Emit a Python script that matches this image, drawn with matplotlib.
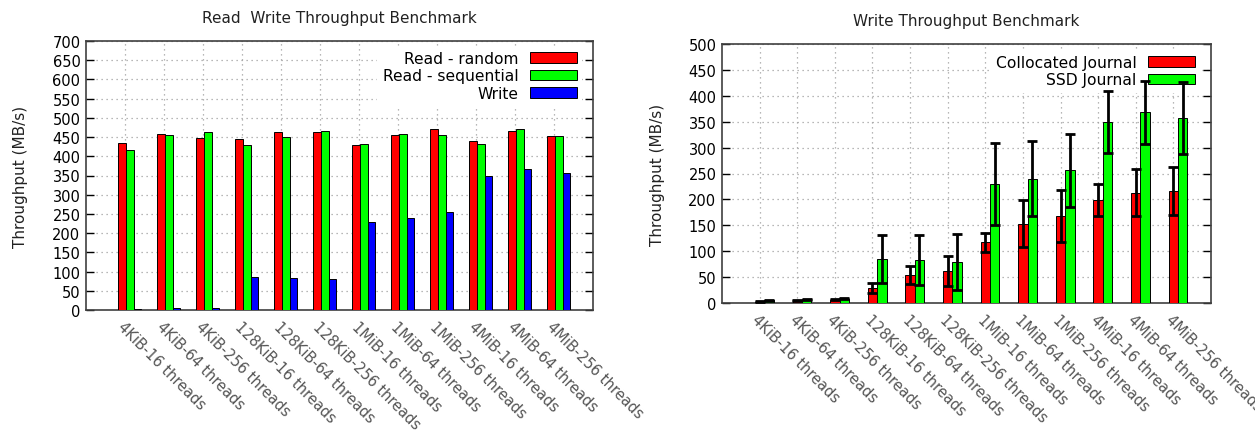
import matplotlib
matplotlib.use("Agg")
import matplotlib.pyplot as plt
import numpy as np

categories = ["4KiB-16 threads", "4KiB-64 threads", "4KiB-256 threads",
              "128KiB-16 threads", "128KiB-64 threads", "128KiB-256 threads",
              "1MiB-16 threads", "1MiB-64 threads", "1MiB-256 threads",
              "4MiB-16 threads", "4MiB-64 threads", "4MiB-256 threads"]

read_random = [434, 459, 447, 444, 462, 464, 430, 455, 470, 439, 467, 452]
read_sequential = [417, 455, 462, 430, 450, 467, 431, 458, 455, 432, 470, 452]
write = [2, 5, 5, 86, 83, 81, 230, 240, 255, 349, 368, 357]

collocated = [2, 4, 6, 29, 54, 62, 117, 153, 168, 199, 213, 216]
collocated_err = [1, 1, 1, 9, 17, 29, 19, 45, 51, 31, 45, 47]
ssd = [5, 7, 8, 85, 83, 80, 229, 240, 256, 350, 368, 357]
ssd_err = [1, 1, 1, 47, 48, 54, 79, 73, 71, 60, 61, 70]

W, H = 1255, 431
fig = plt.figure(figsize=(W / 100, H / 100), dpi=100)
plt.rcParams['font.family'] = ['DejaVu Sans']

RED, GREEN, BLUE = '#ff0000', '#00ff00', '#0000ff'
FRAME = '#404040'
TICKFS = 10.5


def style_axes(ax, ymax):
    ax.set_xlim(-1, len(categories))
    ax.set_ylim(0, ymax)
    ax.set_yticks(np.arange(0, ymax + 1, 50))
    ax.set_xticks(np.arange(len(categories)))
    ax.set_xticklabels(categories, rotation=-45, ha='left', va='top',
                       rotation_mode='anchor', color='#555555', fontsize=TICKFS)
    ax.tick_params(axis='x', length=0, pad=6)
    ax.tick_params(axis='y', direction='in', length=6, width=1.0,
                   right=True, labelsize=TICKFS, colors='black', pad=4)
    for s in ax.spines.values():
        s.set_color(FRAME)
        s.set_linewidth(1.2)
    ax.set_axisbelow(True)
    ax.grid(True, linestyle=(0, (1, 3)), color='#a0a0a0', linewidth=0.9)
    ax.set_ylabel("Throughput (MB/s)", fontsize=11, color='#222222')


legend_kw = dict(loc='upper right', markerfirst=False, frameon=True,
                 framealpha=1, edgecolor='none', fancybox=False,
                 fontsize=11.2, handlelength=3.0, handleheight=0.7,
                 labelspacing=0.14, handletextpad=0.75, borderpad=0.35,
                 borderaxespad=0.5)

# Left chart
ax1 = fig.add_axes([86 / W, 1 - 311 / H, 507 / W, 269 / H])
x = np.arange(len(categories))
bw = 0.2
ax1.bar(x - 0.08, read_random, bw, color=RED, edgecolor='black', linewidth=0.7,
        label="Read - random", zorder=3)
ax1.bar(x + 0.12, read_sequential, bw, color=GREEN, edgecolor='black', linewidth=0.7,
        label="Read - sequential", zorder=3)
ax1.bar(x + 0.32, write, bw, color=BLUE, edgecolor='black', linewidth=0.7,
        label="Write", zorder=3)
style_axes(ax1, 700)
ax1.set_title("Read  Write Throughput Benchmark", fontsize=11, pad=14,
              color='#222222')
ax1.yaxis.set_label_coords(-0.115, 0.5)
leg1 = ax1.legend(bbox_to_anchor=(1 - 3 / 507, 1 + 3 / 269), **legend_kw)
leg1.set_zorder(2.5)

# Right chart
ax2 = fig.add_axes([722 / W, 1 - 304 / H, 489 / W, 259 / H])
bw2 = 0.25
ekw = dict(ecolor='black', elinewidth=2.0, capsize=3.3, capthick=2.0, zorder=4)
ax2.bar(x, collocated, bw2, color=RED, edgecolor='black', linewidth=0.7,
        label="Collocated Journal", zorder=3)
ax2.bar(x + 0.25, ssd, bw2, color=GREEN, edgecolor='black', linewidth=0.7,
        label="SSD Journal", zorder=3)
ax2.errorbar(x, collocated, yerr=collocated_err, fmt='none', **ekw)
ax2.errorbar(x + 0.25, ssd, yerr=ssd_err, fmt='none', **ekw)
style_axes(ax2, 500)
ax2.set_title("Write Throughput Benchmark", fontsize=11, pad=14,
              color='#222222')
ax2.yaxis.set_label_coords(-0.116, 0.5)
leg2 = ax2.legend(bbox_to_anchor=(1 - 3 / 489, 1 + 2 / 259), **legend_kw)
leg2.set_zorder(2.5)

fig.savefig("out.png", dpi=100)
